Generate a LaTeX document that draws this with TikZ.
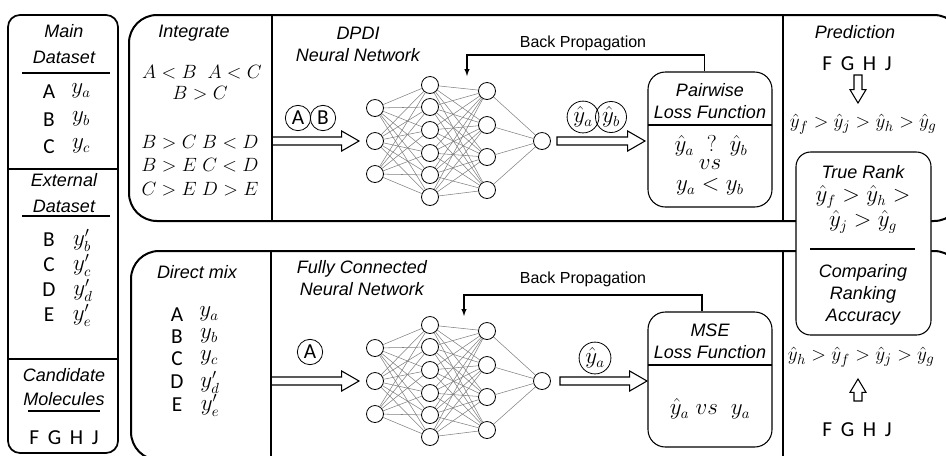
\documentclass[tikz,border=0pt]{standalone}
\usepackage{fontspec}
\setmainfont{Liberation Sans}
\newfontfamily\calibri{Carlito}
\usetikzlibrary{calc}
\newcommand\gap{\hspace{6.5pt}}
\tikzstyle{panel} = [line width=1.5pt, rounded corners=21pt]
\tikzstyle{title} = [align=center, inner sep=1pt, font=\fontsize{13.5}{16.5}\selectfont\itshape]
\tikzstyle{bp} = [inner sep=1pt, font=\fontsize{12}{14}\selectfont]
\tikzstyle{mol} = [inner sep=1pt, font=\calibri\fontsize{16}{18}\selectfont]
\tikzstyle{eq} = [inner sep=1pt, font=\fontsize{16}{18}\selectfont]
\tikzstyle{rel} = [inner sep=1pt, font=\fontsize{14}{16}\selectfont]
\tikzstyle{order} = [inner sep=1pt, anchor=west, font=\fontsize{15}{17}\selectfont]
\tikzstyle{neuron} = [circle, draw, line width=0.6pt, minimum size=12.75pt, inner sep=0pt]
\tikzstyle{syn} = [draw=gray, line width=0.4pt]
\tikzstyle{tag} = [circle, draw, line width=0.6pt, minimum size=19pt, inner sep=0pt]
\tikzstyle{lossbox} = [rectangle, draw, rounded corners=13pt, minimum width=93pt, minimum height=101.25pt]
\tikzset{>=latex, every picture/.style={line width=0.8pt},
  fat/.style n args={3}{to path={
    ($(\tikztostart)!#1!90:(\tikztotarget)$)
    -- ($(\tikztotarget)!#3!(\tikztostart)!#1!90:(\tikztotarget)$)
    -- ($(\tikztotarget)!#3!(\tikztostart)!#2!90:(\tikztotarget)$)
    -- (\tikztotarget)
    -- ($(\tikztotarget)!#3!(\tikztostart)!#2!-90:(\tikztotarget)$)
    -- ($(\tikztotarget)!#3!(\tikztostart)!#1!-90:(\tikztotarget)$)
    -- ($(\tikztostart)!#1!-90:(\tikztotarget)$) -- cycle}},
  bigfat/.style={fat={3pt}{7.5pt}{13pt}},
  smallfat/.style={fat={3pt}{6pt}{10pt}}}

\begin{document}
\begin{tikzpicture}[x=0.75pt, y=-0.75pt]
\useasboundingbox (0,0) rectangle (946,455);
\clip (0,0) rectangle (946,455);

% data column
\draw[line width=1.3pt, rounded corners=9pt] (8,15) rectangle (118,453);
\draw (8,169) -- (118,169);
\draw (8,359) -- (118,359);
\node[title] (main) at (64,44) {Main\\[3pt]Dataset};
\draw (22,73) -- (110,73);
\node[mol] (ma) at (49,92) {A};
\node[eq] (ya) at (81,91) {$y_a$};
\node[mol] (mb) at (49,120) {B};
\node[eq] (yb) at (81,119) {$y_b$};
\node[mol] (mc) at (49,147) {C};
\node[eq] (yc) at (81,146) {$y_c$};
\node[title] (ext) at (64,193) {External\\[3pt]Dataset};
\draw (22,216) -- (110,216);
\node[mol] (eb) at (49,240) {B};
\node[eq] (yeb) at (82,240) {$y'_b$};
\node[mol] (ec) at (49,265) {C};
\node[eq] (yec) at (82,265) {$y'_c$};
\node[mol] (ed) at (49,290) {D};
\node[eq] (yed) at (83,290) {$y'_d$};
\node[mol] (ee) at (49,315) {E};
\node[eq] (yee) at (82,315) {$y'_e$};
\node[title] (cand) at (64,387) {Candidate\\[1pt]Molecules};
\draw (28,411) -- (100,411);
\node[mol] (fghj) at (64,438) {F\gap G\gap H\gap J};

% panels
\draw[panel] (129,15) rectangle (962,221);
\draw[panel] (131,251) rectangle (962,460);
\draw (272,15) -- (272,221);
\draw (783,15) -- (783,221);
\draw (271,251) -- (271,460);
\draw (783,251) -- (783,460);

% pairwise branch
\node[title] (integ) at (194,33) {Integrate};
\node[rel] (r1) at (202,72) {$A<B\;\;A<C$};
\node[rel] (r2) at (200,93) {$B>C$};
\node[rel] (r3) at (200,142) {$B>C\;B<D$};
\node[rel] (r4) at (200,165) {$B>E\;C<D$};
\node[rel] (r5) at (200,189) {$C>E\;D>E$};
\node[title] (dpdi) at (358,44) {DPDI\\Neural Network};
\node[tag, mol] (pa) at (298,118) {A};
\node[tag, mol] (pb) at (323,118) {B};
\coordinate (t-in) at (272,141);
\coordinate (t-tip) at (359,141);
\draw[bigfat] (t-in) to (t-tip);

% regression branch
\node[title] (mix) at (197,272) {Direct mix};
\node[mol] (da) at (177,315) {A};
\node[eq] (dya) at (209,314) {$y_a$};
\node[mol] (db) at (177,337) {B};
\node[eq] (dyb) at (209,336) {$y_b$};
\node[mol] (dc) at (177,359) {C};
\node[eq] (dyc) at (209,358) {$y_c$};
\node[mol] (dd) at (177,382) {D};
\node[eq] (dyd) at (210,382) {$y'_d$};
\node[mol] (de) at (177,405) {E};
\node[eq] (dye) at (210,405) {$y'_e$};
\node[title] (fcnn) at (362,278) {Fully Connected\\Neural Network};
\node[tag, mol] (sa) at (310,352) {A};
\coordinate (b-in) at (271,381);
\coordinate (b-tip) at (359,381);
\draw[bigfat] (b-in) to (b-tip);

% the two networks
\foreach \net/\dy in {t/0, b/240} {
  \foreach \y [count=\i] in {108,141,174}
    \node[neuron] (\net-a\i) at (375,\y+\dy) {};
  \foreach \y [count=\i] in {85,107,130,153,175,197}
    \node[neuron] (\net-b\i) at (430,\y+\dy) {};
  \foreach \y [count=\i] in {91,125,157,190}
    \node[neuron] (\net-c\i) at (487,\y+\dy) {};
  \node[neuron] (\net-out) at (542,141+\dy) {};
  \foreach \i in {1,2,3}
    \foreach \j in {1,...,6}
      \draw[syn] (\net-a\i) -- (\net-b\j);
  \foreach \i in {1,...,6}
    \foreach \j in {1,...,4}
      \draw[syn] (\net-b\i) -- (\net-c\j);
  \foreach \i in {1,...,4}
    \draw[syn] (\net-c\i) -- (\net-out);
}

% pairwise loss
\node[lossbox] (pw) at (710,139.5) {};
\draw (648,125) -- (772,125);
\node[title] (pwt) at (710,101) {Pairwise\\Loss Function};
\node[eq] (pq1) at (711,146) {$\hat{y}_a\;\;?\;\;\hat{y}_b$};
\node[eq] (pq2) at (710,165) {$vs$};
\node[eq] (pq3) at (710,187) {$y_a<y_b$};
\node[tag, eq, minimum size=21pt] (hya) at (583,117) {$\hat{y}_a$};
\node[tag, eq, minimum size=21pt] (hyb) at (611,117) {$\hat{y}_b$};
\coordinate (t-out) at (557,141);
\coordinate (t-loss) at (645,141);
\draw[bigfat] (t-out) to (t-loss);
\coordinate (t-bp) at (467,55);
\coordinate (t-bpend) at (467,76);
\draw[->] ([xshift=-4pt]pw.north) |- (t-bp) -- (t-bpend);
\node[bp] (tbpl) at (583,43) {Back Propagation};

% mse loss
\node[lossbox] (mse) at (710,379.5) {};
\draw (648,365) -- (772,365);
\node[title] (mset) at (710,341) {MSE\\Loss Function};
\node[eq] (mq) at (710,409) {$\hat{y}_a\;vs\;\;y_a$};
\node[tag, eq, minimum size=21pt] (mya) at (595,358) {$\hat{y}_a$};
\coordinate (b-out) at (560,381);
\coordinate (b-loss) at (647,381);
\draw[bigfat] (b-out) to (b-loss);
\coordinate (b-bp) at (464,295);
\coordinate (b-bpend) at (464,316);
\draw[->] ([xshift=-6pt]mse.north) |- (b-bp) -- (b-bpend);
\node[bp] (bbpl) at (583,279) {Back Propagation};

% ranking column
\node[title] (pred) at (855,32) {Prediction};
\node[mol] (pf) at (857,64) {F\gap G\gap H\gap J};
\coordinate (p-top) at (858,75);
\coordinate (p-bot) at (858,103);
\draw[smallfat] (p-top) to (p-bot);
\node[order] (prank) at (788,124) {$\hat{y}_f>\hat{y}_j>\hat{y}_h>\hat{y}_g$};
\node[rectangle, draw, fill=white, rounded corners=11pt, minimum width=101.25pt, minimum height=137.25pt] (rank) at (863.5,243.5) {};
\node[title] (truer) at (863,172) {True Rank};
\node[eq] (tr1) at (863,197) {$\hat{y}_f>\hat{y}_h>$};
\node[eq] (tr2) at (863,222) {$\hat{y}_j>\hat{y}_g$};
\draw (810,249) -- (915,249);
\node[title] (acc) at (863,295) {Comparing\\Ranking\\Accuracy};
\node[order] (mrank) at (786,357) {$\hat{y}_h>\hat{y}_f>\hat{y}_j>\hat{y}_g$};
\coordinate (q-bot) at (858,401);
\coordinate (q-top) at (858,379);
\draw[smallfat] (q-bot) to (q-top);
\node[mol] (qf) at (857,430) {F\gap G\gap H\gap J};
\end{tikzpicture}
\end{document}
